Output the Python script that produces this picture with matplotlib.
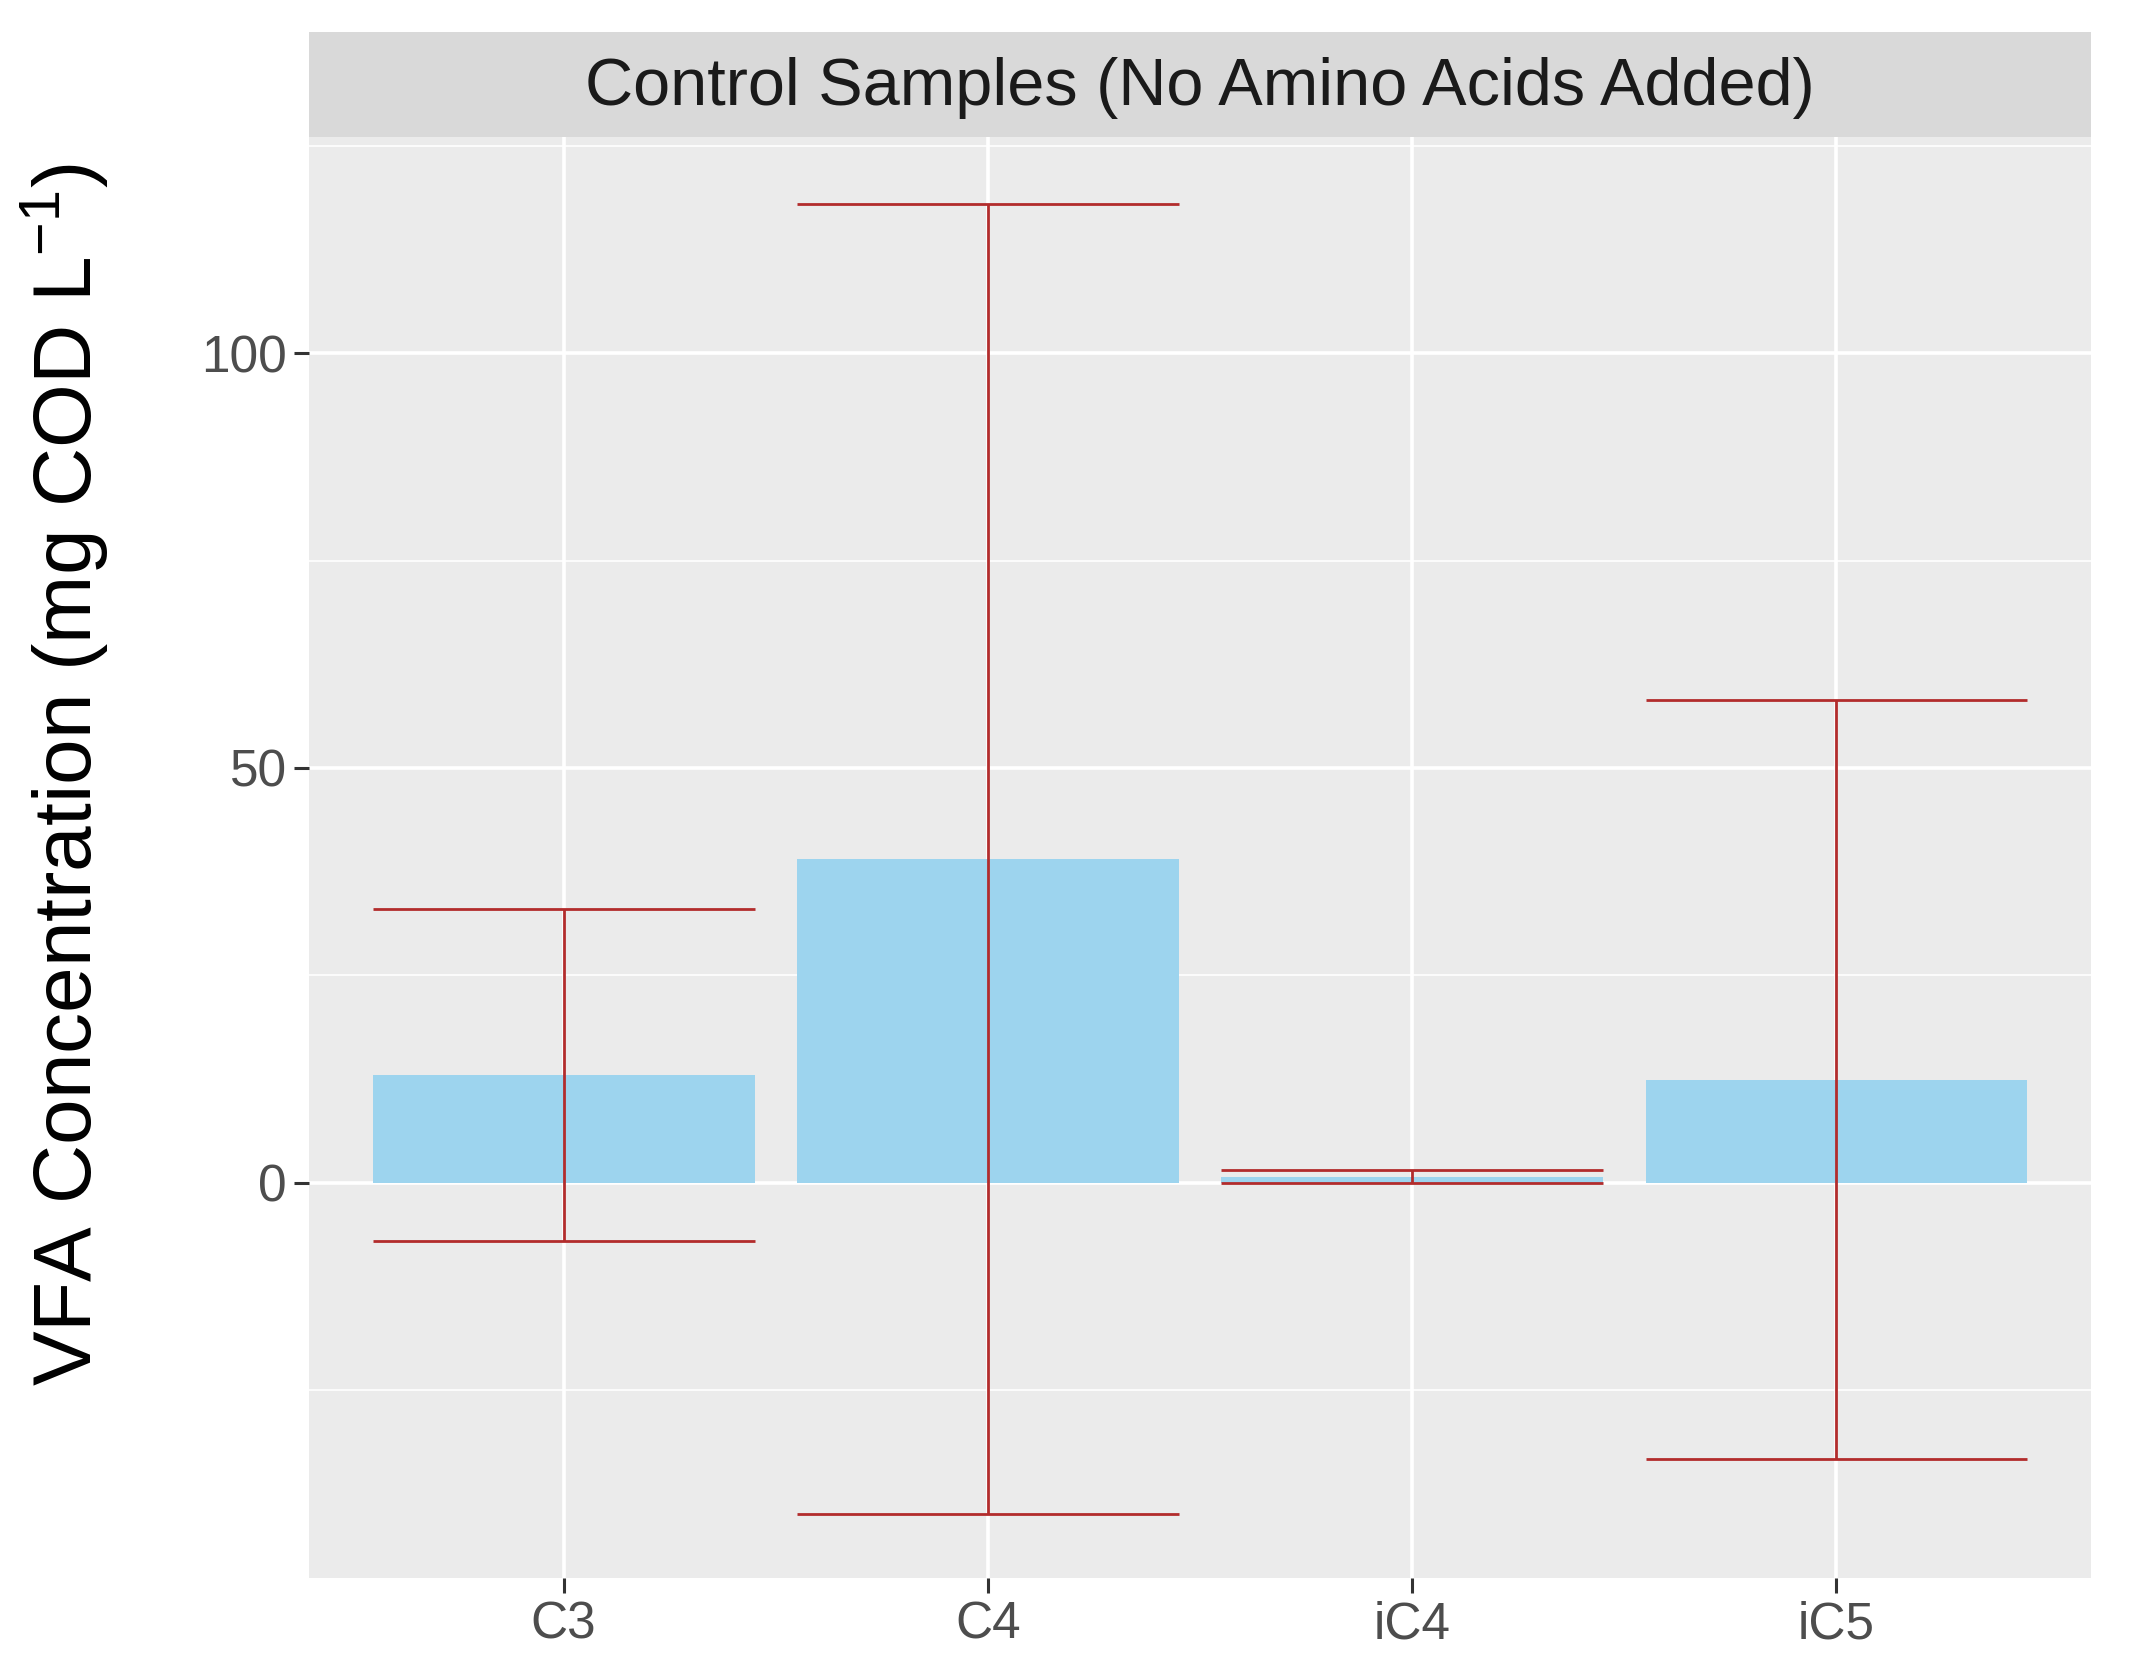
import matplotlib
matplotlib.use("Agg")
import matplotlib.pyplot as plt
import numpy as np

categories = ["C3", "C4", "iC4", "iC5"]
means = [13.0, 39.0, 0.7, 12.4]
sds = [20.0, 79.0, 0.8, 45.8]
strip_title = "Control Samples (No Amino Acids Added)"
ylabel = "VFA Concentration (mg COD L$^{-1}$)"
yticks = [0, 50, 100]
yminor = [-25, 25, 75, 125]

plt.rcParams['font.family'] = ['Liberation Sans', 'DejaVu Sans']
plt.rcParams['mathtext.fontset'] = 'custom'
plt.rcParams['mathtext.rm'] = 'Liberation Sans'

W, H = 2130, 1667
fig = plt.figure(figsize=(W/100, H/100), dpi=100)
L, R, B, T = 309/W, 2091/W, (H-1578)/H, (H-137)/H
ax = fig.add_axes([L, B, R-L, T-B])
sax = fig.add_axes([L, T, R-L, (137-32)/H])

x = np.arange(1, len(categories)+1)
ax.set_facecolor("#EBEBEB")
ax.bar(x, means, width=0.9, color="#9DD4EE", zorder=2)
ax.errorbar(x, means, yerr=sds, fmt="none", ecolor="#B22C2C", elinewidth=2.0,
            capsize=0, zorder=3)
lo = np.array(means) - np.array(sds)
hi = np.array(means) + np.array(sds)
ax.hlines(lo, x-0.45, x+0.45, color="#B22C2C", lw=2.0, zorder=3)
ax.hlines(hi, x-0.45, x+0.45, color="#B22C2C", lw=2.0, zorder=3)

ax.set_xlim(0.4, len(categories)+0.6)
ax.set_ylim(-47.7, 126.1)
ax.set_xticks(x)
ax.set_xticklabels(categories)
ax.set_yticks(yticks)
ax.set_yticks(yminor, minor=True)
ax.grid(True, which="major", color="white", lw=2.6, zorder=0)
ax.grid(True, which="minor", axis="y", color="white", lw=1.2, zorder=0)
ax.set_axisbelow(True)
for s in ax.spines.values():
    s.set_visible(False)
ax.tick_params(axis="both", which="major", length=11, width=2.2, color="#333333",
               labelsize=37, labelcolor="#4D4D4D", pad=5)
ax.tick_params(axis="y", which="minor", length=0)
fig.text(65/W, (H-775)/H, ylabel, rotation=90, ha="center", va="center",
         fontsize=59, color="black")

sax.set_facecolor("#D9D9D9")
sax.set_xticks([]); sax.set_yticks([])
for s in sax.spines.values():
    s.set_visible(False)
sax.text(0.5, 0.47, strip_title, ha="center", va="center", fontsize=48,
         color="#1A1A1A", transform=sax.transAxes)

fig.savefig("out.png", dpi=100, facecolor="white")
